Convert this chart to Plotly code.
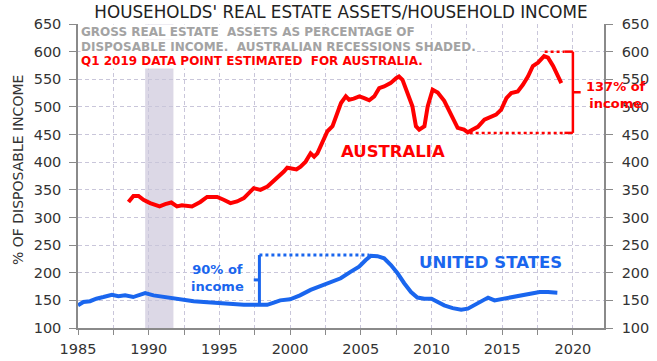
import plotly.graph_objects as go

# ---------------- data ----------------
aus_year = [1988.57, 1988.92, 1989.28, 1989.63, 1990.1, 1990.77, 1991.17, 1991.6, 1992.0, 1992.35,
            1993.06, 1993.65, 1994.13, 1994.84, 1995.3, 1995.78, 1996.25, 1996.73, 1997.43, 1997.9,
            1998.4, 1999.1, 1999.56, 1999.8, 2000.15, 2000.45, 2000.74, 2001.1, 2001.45, 2001.7,
            2001.93, 2002.28, 2002.64, 2003.0, 2003.35, 2003.6, 2003.94, 2004.17, 2004.5, 2004.9,
            2005.24, 2005.6, 2005.95, 2006.3, 2006.65, 2007.1, 2007.5, 2007.7, 2007.95, 2008.3,
            2008.65, 2008.9, 2009.13, 2009.5, 2009.73, 2010.08, 2010.44, 2010.9, 2011.26, 2011.6,
            2011.85, 2012.3, 2012.57, 2012.92, 2013.28, 2013.74, 2014.2, 2014.57, 2014.93, 2015.3,
            2015.64, 2016.1, 2016.46, 2016.82, 2017.17, 2017.53, 2017.96, 2018.24, 2018.6, 2018.9,
            2019.18]
aus_value = [328, 339, 339, 332, 326, 320, 324, 327, 320, 322,
             320, 328, 337, 337, 332, 326, 329, 335, 353, 350,
             356, 371, 383, 390, 388, 387, 392, 401, 416, 410,
             416, 435, 456, 465, 492, 507, 519, 513, 515, 519,
             516, 512, 519, 534, 537, 543, 552, 555, 549, 525,
             501, 465, 459, 465, 501, 531, 526, 511, 493, 474,
             462, 459, 454, 459, 464, 477, 482, 486, 495, 516,
             525, 528, 540, 555, 574, 580, 592, 589, 574, 556,
             543]

us_year = [1985.0, 1985.38, 1985.85, 1986.3, 1986.8, 1987.4, 1987.86, 1988.33, 1988.9, 1989.3,
           1989.75, 1990.34, 1991.05, 1991.76, 1992.47, 1993.18, 1993.9, 1994.6, 1995.3, 1996.0,
           1996.73, 1997.67, 1998.38, 1998.85, 1999.3, 2000.0, 2000.7, 2001.45, 2002.16, 2002.87,
           2003.58, 2004.3, 2004.88, 2005.35, 2005.7, 2006.18, 2006.65, 2007.13, 2007.6, 2008.07,
           2008.55, 2009.0, 2009.5, 2010.0, 2010.44, 2010.9, 2011.5, 2012.1, 2012.57, 2012.92,
           2013.4, 2014.0, 2014.46, 2015.05, 2015.64, 2016.2, 2016.8, 2017.65, 2018.24, 2018.9]
us_value = [141, 147, 148.5, 153, 156, 160, 157.5, 159, 156, 159,
            163, 159, 156, 153, 150, 148.5, 147, 146, 144, 142.5,
            142, 142, 142, 146, 150, 152, 159, 169, 176, 183,
            190, 202, 211, 223, 230.5, 230, 226, 214, 199, 181,
            165, 155, 153, 153, 147, 141, 136, 133, 135, 140,
            147, 155, 150, 153, 155, 158, 162, 165, 165, 164]

recession_start = [1989.75]
recession_end = [1991.75]

x_tick_vals = [1985, 1987.5, 1990, 1992.5, 1995, 1997.5, 2000, 2002.5, 2005, 2007.5,
               2010, 2012.5, 2015, 2017.5, 2020]
x_tick_text = ["1985", "", "1990", "", "1995", "", "2000", "", "2005", "",
               "2010", "", "2015", "", "2020"]
y_tick_vals = [100, 150, 200, 250, 300, 350, 400, 450, 500, 550, 600, 650]

# bracket annotation values (data units)
us_bracket_x = 1997.83
us_bracket_low, us_bracket_high = 142, 232
us_dotted_end = 2005.6
au_bracket_x = 2020.0
au_bracket_low, au_bracket_high = 453, 600
au_dotted_low_start, au_dotted_high_start = 2012.7, 2018.0

RED = "#ff0000"
BLUE = "#1a66ee"
GRID = "#c9c6da"
AXIS = "#8a8a8a"
FONT = "DejaVu Sans"

fig = go.Figure()
fig.add_trace(go.Scatter(x=us_year, y=us_value, mode="lines",
                         line=dict(color=BLUE, width=4), name="United States"))
fig.add_trace(go.Scatter(x=aus_year, y=aus_value, mode="lines",
                         line=dict(color=RED, width=4), name="Australia"))
fig.add_trace(go.Scatter(x=aus_year, y=aus_value, mode="lines", yaxis="y2",
                         line=dict(color="rgba(0,0,0,0)", width=0), hoverinfo="skip",
                         showlegend=False))

shapes = []
for s, e in zip(recession_start, recession_end):
    shapes.append(dict(type="rect", xref="x", yref="y", x0=s, x1=e, y0=100, y1=650,
                       fillcolor="#dcd8e6", line=dict(width=0), layer="below"))

def seg(x0, y0, x1, y1, color, dash="solid", w=3):
    shapes.append(dict(type="line", xref="x", yref="y", x0=x0, y0=y0, x1=x1, y1=y1,
                       line=dict(color=color, width=w, dash=dash), layer="above"))

# US bracket
seg(us_bracket_x, us_bracket_low, us_bracket_x, us_bracket_high, BLUE)
seg(us_bracket_x, us_bracket_high, us_dotted_end, us_bracket_high, BLUE, "dot")
us_mid = (us_bracket_low + us_bracket_high) / 2
seg(us_bracket_x - 0.4, us_mid, us_bracket_x, us_mid, BLUE)
# Australia bracket
seg(au_bracket_x, au_bracket_low, au_bracket_x, au_bracket_high, RED, w=2.5)
seg(au_bracket_x - 0.6, au_bracket_high, au_bracket_x, au_bracket_high, RED, w=2.5)
seg(au_bracket_x - 0.6, au_bracket_low, au_bracket_x, au_bracket_low, RED, w=2.5)
seg(au_dotted_high_start, au_bracket_high, au_bracket_x - 0.6, au_bracket_high, RED, "dot", 2.5)
seg(au_dotted_low_start, au_bracket_low, au_bracket_x - 0.6, au_bracket_low, RED, "dot", 2.5)
au_mid = (au_bracket_low + au_bracket_high) / 2
seg(au_bracket_x, au_mid, au_bracket_x + 0.55, au_mid, RED, w=2.5)

note_lines = ["GROSS REAL ESTATE&nbsp; ASSETS AS PERCENTAGE OF",
              "DISPOSABLE INCOME.&nbsp; AUSTRALIAN RECESSIONS SHADED.",
              "Q1 2019 DATA POINT ESTIMATED&nbsp; FOR AUSTRALIA."]
note_colors = ["#a3a3a3", "#a3a3a3", RED]
note_px_y = [32, 46.5, 61]  # pixel centres from top of figure

annotations = []
for txt, col, py in zip(note_lines, note_colors, note_px_y):
    annotations.append(dict(text=txt, xref="paper", yref="paper", x=0.004,
                            y=(327.7 - py) / 303.7, xanchor="left", yanchor="middle",
                            align="left", showarrow=False, bgcolor="white", borderpad=0,
                            font=dict(family=FONT, size=12, color=col, weight="bold")))

annotations += [
    dict(text="AUSTRALIA", xref="x", yref="y", x=2007.3, y=419, showarrow=False,
         font=dict(family=FONT, size=16.5, color=RED, weight="bold")),
    dict(text="UNITED STATES", xref="x", yref="y", x=2014.16, y=219, showarrow=False,
         font=dict(family=FONT, size=16.5, color=BLUE, weight="bold")),
    dict(text="90% of<br>income", xref="x", yref="y", x=1994.84, y=191, showarrow=False,
         align="center", font=dict(family=FONT, size=13, color=BLUE, weight="bold")),
    dict(text="137% of<br>income", xref="paper", yref="y", x=1.022, y=522, showarrow=False,
         align="center", xanchor="center",
         font=dict(family=FONT, size=13, color=RED, weight="bold")),
    dict(text="% OF DISPOSABLE INCOME", xref="paper", yref="paper", x=-0.114, y=0.52,
         textangle=-90, showarrow=False, xanchor="center", yanchor="middle",
         font=dict(family=FONT, size=14, color="#333333")),
]

axis_common = dict(showline=True, linecolor=AXIS, linewidth=1.5, ticks="outside",
                   tickcolor=AXIS, zeroline=False, automargin=False,
                   tickfont=dict(family=FONT, size=14.5, color="#333333"))

fig.update_layout(
    width=657, height=361,
    margin=dict(l=78, r=53, t=24, b=33),
    paper_bgcolor="white", plot_bgcolor="white",
    showlegend=False,
    title=dict(text="HOUSEHOLDS' REAL ESTATE ASSETS/HOUSEHOLD INCOME",
               x=0.5, xref="paper", y=1 - 12.5 / 361, yref="container",
               xanchor="center", yanchor="middle",
               font=dict(family=FONT, size=16.8, color="#222222")),
    xaxis=dict(range=[1985, 2022.2], tickvals=x_tick_vals, ticktext=x_tick_text,
               showgrid=True, gridcolor=GRID, griddash="4px,3px", gridwidth=1,
               ticklen=5, ticklabelstandoff=2, **axis_common),
    yaxis=dict(range=[100, 650], tickvals=y_tick_vals, showgrid=True, gridcolor=GRID,
               griddash="4px,3px", gridwidth=1, ticklen=7, ticklabelstandoff=5,
               **axis_common),
    yaxis2=dict(range=[100, 650], tickvals=y_tick_vals, overlaying="y", side="right",
                anchor="x", showgrid=False, ticklen=7, ticklabelstandoff=6, **axis_common),
    shapes=shapes,
    annotations=annotations,
)

fig.write_html("out.html", config={"displayModeBar": False},
               post_script="document.body.style.margin='0';document.body.style.padding='0';")
